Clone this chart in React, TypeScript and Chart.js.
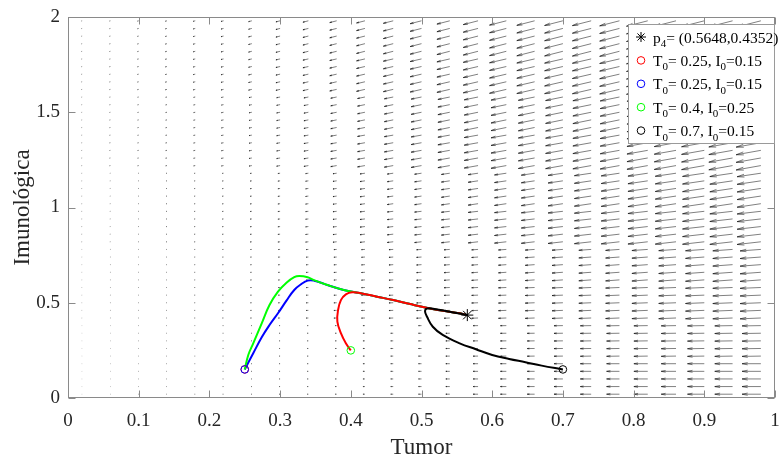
import React, { useEffect, useRef } from 'react';
import { Chart, registerables } from 'chart.js';

Chart.register(...registerables);

const FONT = "'Liberation Serif', 'Times New Roman', serif";
const TXT = '#262626';
const AXIS = '#8a8a8a';

// ---- trajectories ----
const blueT = [0.25, 0.262, 0.274, 0.285, 0.297, 0.309, 0.320, 0.330, 0.339, 0.348, 0.358, 0.367, 0.390, 0.414, 0.437, 0.460, 0.484, 0.507, 0.530, 0.554, 0.5648];
const blueI = [0.15, 0.235, 0.319, 0.383, 0.445, 0.511, 0.567, 0.598, 0.616, 0.616, 0.605, 0.593, 0.567, 0.550, 0.532, 0.514, 0.493, 0.474, 0.458, 0.445, 0.4352];

const greenT = [0.25, 0.255, 0.262, 0.274, 0.285, 0.297, 0.309, 0.320, 0.327, 0.339, 0.348, 0.367, 0.390, 0.414, 0.437, 0.460, 0.484, 0.507, 0.530, 0.554, 0.5648];
const greenI = [0.15, 0.226, 0.287, 0.392, 0.488, 0.558, 0.605, 0.634, 0.640, 0.634, 0.619, 0.593, 0.567, 0.550, 0.532, 0.514, 0.493, 0.474, 0.458, 0.445, 0.4352];

const redT = [0.400, 0.393, 0.386, 0.381, 0.382, 0.386, 0.393, 0.402, 0.414, 0.437, 0.460, 0.484, 0.507, 0.530, 0.554, 0.5648];
const redI = [0.25, 0.287, 0.340, 0.401, 0.462, 0.514, 0.544, 0.555, 0.550, 0.532, 0.514, 0.493, 0.474, 0.458, 0.445, 0.4352];

const blackT = [0.70, 0.670, 0.647, 0.624, 0.600, 0.577, 0.554, 0.530, 0.516, 0.508, 0.505, 0.508, 0.520, 0.540, 0.5648];
const blackI = [0.15, 0.170, 0.188, 0.205, 0.226, 0.256, 0.287, 0.331, 0.374, 0.425, 0.455, 0.470, 0.466, 0.453, 0.4352];

// initial conditions and equilibrium
const icT = [0.25, 0.25, 0.4, 0.7];
const icI = [0.15, 0.15, 0.25, 0.15];
const icColors = ['#ff0000', '#0000ff', '#00ff00', '#000000'];
const p4T = 0.5648;
const p4I = 0.4352;

const legendLabels = [
  ['p', '4', '= (0.5648,0.4352)'],
  ['T', '0', '= 0.25, I', '0', '=0.15'],
  ['T', '0', '= 0.25, I', '0', '=0.15'],
  ['T', '0', '= 0.4, I', '0', '=0.25'],
  ['T', '0', '= 0.7, I', '0', '=0.15'],
];

// ---- direction field ----
const quiverT = [0.02, 0.06, 0.10, 0.14, 0.18, 0.22, 0.26, 0.30, 0.34, 0.38, 0.42, 0.46, 0.50, 0.54, 0.58, 0.62, 0.66, 0.70, 0.74, 0.78, 0.82, 0.86, 0.90, 0.94, 0.98];
const quiverI = [0.02, 0.06, 0.10, 0.14, 0.18, 0.22, 0.26, 0.30, 0.34, 0.38, 0.42, 0.46, 0.50, 0.54, 0.58, 0.62, 0.66, 0.70, 0.74, 0.78, 0.82, 0.86, 0.90, 0.94, 0.98, 1.02, 1.06, 1.10, 1.14, 1.18, 1.22, 1.26, 1.30, 1.34, 1.38, 1.42, 1.46, 1.50, 1.54, 1.58, 1.62, 1.66, 1.70, 1.74, 1.78, 1.82, 1.86, 1.90, 1.94, 1.98];
// leftward arrow length (units of 0.001 T) per column, for I bands of 0.4
const quiverLenBand0 = [0.3, 0.4, 0.6, 0.7, 0.8, 1.0, 1.1, 1.4, 1.7, 2.1, 2.8, 3.5, 4.2, 5.6, 7, 8.4, 10.5, 12.6, 15.4, 18.2, 19.6, 21, 23.8, 25.2, 26.6];
const quiverLenBand1 = [0.4, 0.6, 0.7, 0.8, 1.1, 1.4, 1.8, 2.4, 3.1, 3.9, 4.9, 6, 7, 8.1, 9.1, 11.2, 13.3, 15.4, 17.5, 19.6, 22.4, 24.5, 26.6, 28, 29.4];
const quiverLenBand2 = [0.6, 0.7, 0.8, 1.1, 1.4, 1.8, 2.4, 3.1, 3.9, 5.2, 7, 8.4, 9.8, 11.9, 14, 16.8, 18.9, 21, 23.8, 25.9, 28, 29.4, 30.8, 32.2, 33.6];
const quiverLenBand3 = [0.7, 1, 1.3, 1.7, 2.2, 2.9, 3.8, 4.9, 6.3, 8.4, 10.5, 12.6, 14.7, 16.8, 19.6, 21.7, 23.1, 24.5, 25.9, 27.3, 29.4, 30.8, 32.2, 33.6, 35];
const quiverLenBand4 = [0.8, 1.1, 1.5, 2.1, 2.8, 3.6, 4.6, 5.9, 7.7, 9.8, 11.9, 14, 16.1, 18.2, 21, 23.8, 25.2, 25.9, 26.6, 28, 30.1, 31.5, 32.9, 34.3, 35.7];
// ratio dI/dT of the arrows for I bands of 0.2
const quiverSlope = [0.0, 0.06, 0.15, 0.27, 0.42, 0.55, 0.66, 0.76, 0.86, 0.95];

const quiverLen = [quiverLenBand0, quiverLenBand1, quiverLenBand2, quiverLenBand3, quiverLenBand4];

const pts = (xs: number[], ys: number[]) => xs.map((x, i) => ({ x, y: ys[i] }));

const quiverPlugin = {
  id: 'quiver',
  beforeDatasetsDraw(chart: any) {
    const { ctx, chartArea, scales } = chart;
    const xs = scales.x, ys = scales.y;
    const pxT = (xs.getPixelForValue(1) - xs.getPixelForValue(0));
    const pxI = (ys.getPixelForValue(0) - ys.getPixelForValue(1));
    ctx.save();
    ctx.beginPath();
    ctx.rect(chartArea.left, chartArea.top, chartArea.right - chartArea.left, chartArea.bottom - chartArea.top);
    ctx.clip();
    ctx.strokeStyle = '#000';
    ctx.lineWidth = 0.5;
    const a = 0.3, b = 0.2;
    quiverI.forEach((I) => {
      const lb = Math.min(4, Math.floor(I / 0.4));
      const sb = Math.min(9, Math.floor(I / 0.2));
      quiverT.forEach((T, c) => {
        const U = -quiverLen[lb][c] * 0.001;
        const V = U * quiverSlope[sb];
        const x0 = xs.getPixelForValue(T);
        const y0 = ys.getPixelForValue(I);
        const u = U * pxT;
        const v = -V * pxI;
        const hx = x0 + u, hy = y0 + v;
        ctx.beginPath();
        ctx.moveTo(x0, y0);
        ctx.lineTo(hx, hy);
        ctx.moveTo(hx - a * (u + b * v), hy - a * (v - b * u));
        ctx.lineTo(hx, hy);
        ctx.lineTo(hx - a * (u - b * v), hy - a * (v + b * u));
        ctx.stroke();
      });
    });
    ctx.restore();
  },
};

const framePlugin = {
  id: 'frame',
  afterDatasetsDraw(chart: any) {
    const { ctx, chartArea, scales } = chart;
    const L = Math.round(chartArea.left) + 0.5;
    const R = Math.round(chartArea.right) - 0.5;
    const Tp = Math.round(chartArea.top) + 0.5;
    const B = Math.round(chartArea.bottom) - 0.5;
    ctx.save();
    ctx.strokeStyle = AXIS;
    ctx.lineWidth = 1;
    ctx.strokeRect(L, Tp, R - L, B - Tp);
    const tl = 7;
    ctx.beginPath();
    scales.x.ticks.forEach((t: any) => {
      const x = Math.round(scales.x.getPixelForValue(t.value)) + 0.5;
      ctx.moveTo(x, B); ctx.lineTo(x, B - tl);
      ctx.moveTo(x, Tp); ctx.lineTo(x, Tp + tl);
    });
    scales.y.ticks.forEach((t: any) => {
      const y = Math.round(scales.y.getPixelForValue(t.value)) + 0.5;
      ctx.moveTo(L, y); ctx.lineTo(L + tl, y);
      ctx.moveTo(R, y); ctx.lineTo(R - tl, y);
    });
    ctx.stroke();
    ctx.restore();
  },
};

const legendPlugin = {
  id: 'customLegend',
  afterDraw(chart: any) {
    const { ctx } = chart;
    const bx = 628.5, by = 24.5, bw = 146, bh = 119;
    ctx.save();
    ctx.fillStyle = '#fff';
    ctx.fillRect(bx, by, bw, bh);
    ctx.strokeStyle = '#9a9a9a';
    ctx.lineWidth = 1;
    ctx.strokeRect(bx, by, bw, bh);
    const rowY = (k: number) => 37 + k * 23.4;
    const mx = 641;
    const sy = rowY(0);
    ctx.strokeStyle = '#000';
    ctx.beginPath();
    const r = 5;
    ctx.moveTo(mx - r, sy); ctx.lineTo(mx + r, sy);
    ctx.moveTo(mx, sy - r); ctx.lineTo(mx, sy + r);
    const d = r * 0.7071;
    ctx.moveTo(mx - d, sy - d); ctx.lineTo(mx + d, sy + d);
    ctx.moveTo(mx - d, sy + d); ctx.lineTo(mx + d, sy - d);
    ctx.stroke();
    icColors.forEach((col, k) => {
      const y = rowY(k + 1);
      ctx.strokeStyle = col;
      ctx.beginPath();
      ctx.arc(mx, y, 3.8, 0, Math.PI * 2);
      ctx.stroke();
    });
    ctx.fillStyle = '#000';
    ctx.textBaseline = 'alphabetic';
    ctx.textAlign = 'left';
    legendLabels.forEach((segs, k) => {
      let x = 653;
      const base = rowY(k) + 5.5;
      segs.forEach((s, i) => {
        const sub = i % 2 === 1;
        ctx.font = sub ? `11px ${FONT}` : `15.5px ${FONT}`;
        ctx.fillText(s, x, sub ? base + 4.5 : base);
        x += ctx.measureText(s).width;
      });
    });
    ctx.restore();
  },
};

const fmt = (v: number) => String(Number(Number(v).toFixed(2)));

export default function App() {
  const ref = useRef<HTMLCanvasElement | null>(null);
  useEffect(() => {
    if (!ref.current) return;
    const lineDs = (label: string, xs: number[], ys: number[], color: string, order: number) => ({
      label,
      data: pts(xs, ys),
      showLine: true,
      borderColor: color,
      backgroundColor: color,
      borderWidth: 2,
      pointRadius: 0,
      tension: 0.4,
      order,
    });
    const chart = new Chart(ref.current, {
      type: 'scatter',
      data: {
        datasets: [
          {
            label: 'p4',
            data: [{ x: p4T, y: p4I }],
            pointStyle: 'star',
            pointRadius: 6,
            borderColor: '#000',
            backgroundColor: '#000',
            borderWidth: 1,
            order: 0,
          } as any,
          {
            label: 'ic',
            data: pts(icT, icI),
            pointStyle: 'circle',
            pointRadius: 3.8,
            borderWidth: 1,
            pointBorderColor: icColors,
            backgroundColor: 'rgba(0,0,0,0)',
            order: 1,
          } as any,
          lineDs('black', blackT, blackI, '#000000', 2),
          lineDs('red', redT, redI, '#ff0000', 3),
          lineDs('green', greenT, greenI, '#00ff00', 4),
          lineDs('blue', blueT, blueI, '#0000ff', 5),
        ],
      },
      options: {
        animation: false,
        responsive: false,
        layout: { padding: { top: 17, right: 1, left: 0, bottom: 0 } },
        plugins: { legend: { display: false }, tooltip: { enabled: false } },
        scales: {
          x: {
            type: 'linear',
            min: 0,
            max: 1,
            ticks: {
              stepSize: 0.1,
              autoSkip: false,
              maxRotation: 0,
              padding: 12,
              color: TXT,
              font: { family: FONT, size: 19 },
              callback: (v: any) => fmt(v),
            },
            grid: { display: false, drawTicks: false },
            border: { display: false },
            title: {
              display: true,
              text: 'Tumor',
              color: TXT,
              font: { family: FONT, size: 23, lineHeight: 1 },
              padding: { top: 0, bottom: 0 },
            },
            afterFit: (s: any) => {
              s.height = 61;
              s.paddingLeft = 0;
              s.paddingRight = 0;
            },
          },
          y: {
            type: 'linear',
            min: 0,
            max: 2,
            ticks: {
              stepSize: 0.5,
              autoSkip: false,
              padding: 8,
              color: TXT,
              font: { family: FONT, size: 19 },
              callback: (v: any) => fmt(v),
            },
            grid: { display: false, drawTicks: false },
            border: { display: false },
            title: {
              display: true,
              text: 'Imunológica',
              color: TXT,
              font: { family: FONT, size: 23, lineHeight: 1 },
              padding: { top: 11, bottom: 0 },
            },
            afterFit: (s: any) => {
              s.width = 68;
              s.paddingTop = 0;
              s.paddingBottom = 0;
            },
          },
        },
      } as any,
      plugins: [quiverPlugin, framePlugin, legendPlugin],
    });
    return () => chart.destroy();
  }, []);
  return (
    <div style={{ position: 'absolute', left: 0, top: 0, width: 782, height: 459, background: '#fff' }}>
      <canvas ref={ref} width={782} height={459} style={{ display: 'block', width: 782, height: 459 }} />
    </div>
  );
}
